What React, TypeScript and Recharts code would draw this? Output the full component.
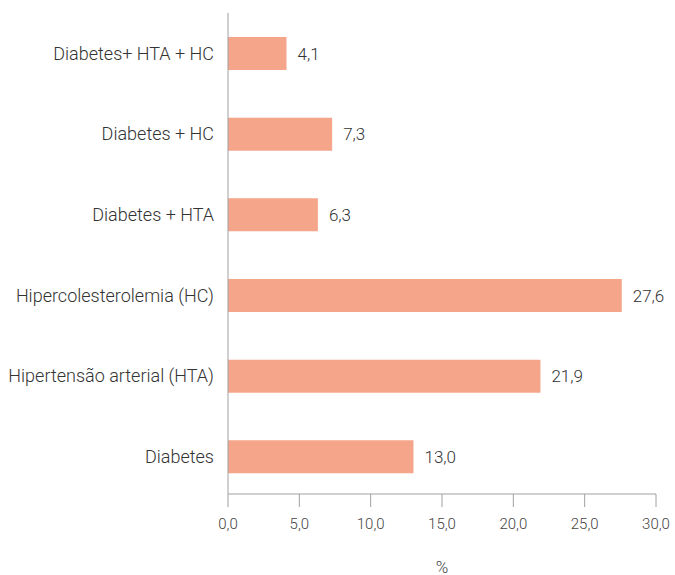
import { Bar, BarChart, LabelList, XAxis, YAxis } from "recharts";

const categories = [
  "Diabetes+ HTA + HC",
  "Diabetes + HC",
  "Diabetes + HTA",
  "Hipercolesterolemia (HC)",
  "Hipertensão arterial (HTA)",
  "Diabetes",
];
const values = [4.1, 7.3, 6.3, 27.6, 21.9, 13.0];
const xTicks = [0, 5, 10, 15, 20, 25, 30];

const rows = categories.map((name, i) => ({ name, value: values[i] }));

const fmt = (v: number) => v.toFixed(1).replace(".", ",");
const font = "Roboto, 'Liberation Sans', sans-serif";

export default function App() {
  return (
    <div style={{ position: "absolute", left: 0, top: 0, fontFamily: font }}>
      <BarChart
        width={675}
        height={575}
        data={rows}
        layout="vertical"
        margin={{ top: 13, right: 19, left: 0, bottom: 0 }}
        barCategoryGap={0}
      >
        <XAxis
          type="number"
          domain={[0, 30]}
          ticks={xTicks}
          tickFormatter={fmt}
          height={81}
          stroke="#a0a0a0"
          tickSize={13}
          tickMargin={11}
          tick={{ fontSize: 15, fill: "#444", fontFamily: font, fontWeight: 300 }}
          label={{ value: "%", position: "insideBottom", offset: 2, fontSize: 17, fill: "#444", fontWeight: 300 }}
        />
        <YAxis
          type="category"
          dataKey="name"
          width={228}
          stroke="#a0a0a0"
          tickLine={false}
          tickMargin={8}
          padding={{ top: 0, bottom: -3 }}
          tick={{ fontSize: 18, fill: "#333", fontFamily: font, fontWeight: 300 }}
        />
        <Bar dataKey="value" fill="#f4a58a" barSize={33} isAnimationActive={false}>
          <LabelList
            dataKey="value"
            position="right"
            offset={11}
            formatter={(v: any) => fmt(Number(v))}
            style={{ fontSize: 17, fill: "#333", fontFamily: font, fontWeight: 300 }}
          />
        </Bar>
      </BarChart>
    </div>
  );
}
